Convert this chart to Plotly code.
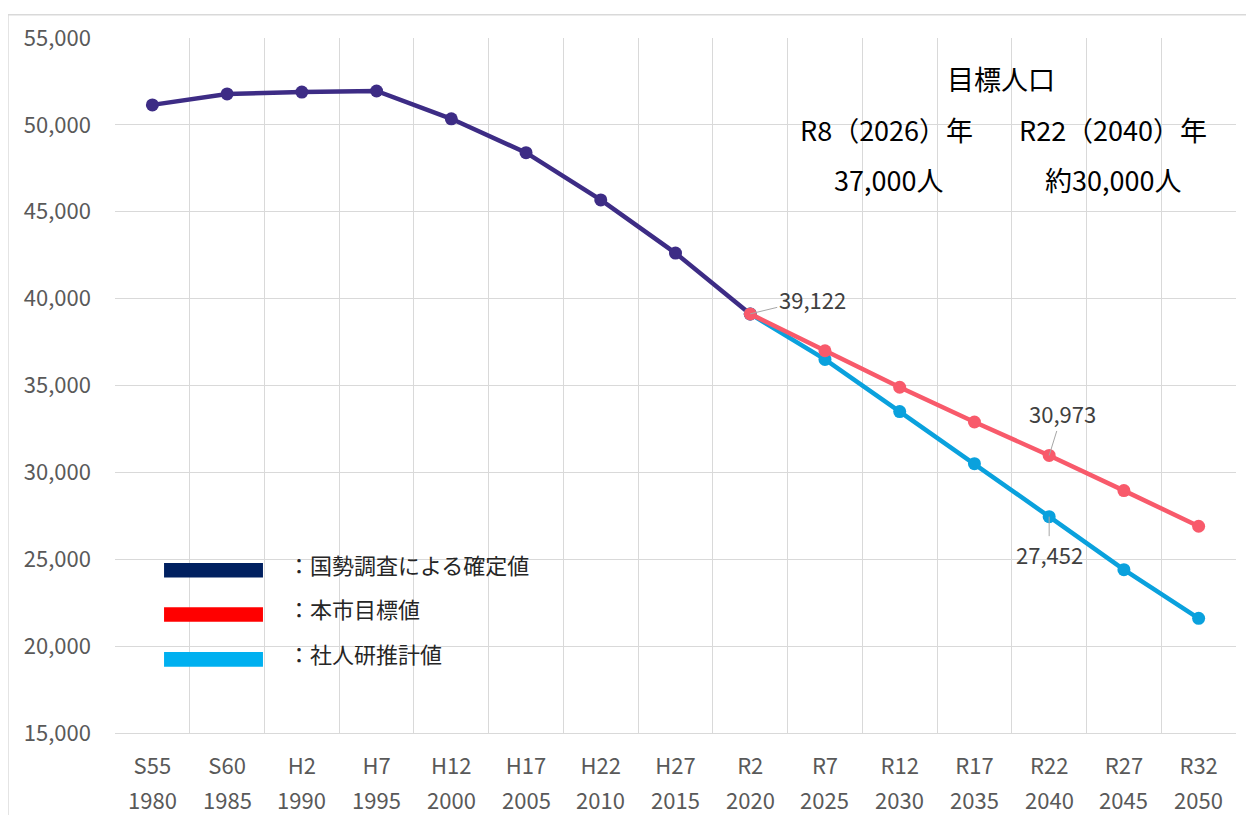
import plotly.graph_objects as go

# ---- data ----
era_labels = ["S55", "S60", "H2", "H7", "H12", "H17", "H22", "H27", "R2",
              "R7", "R12", "R17", "R22", "R27", "R32"]
years = ["1980", "1985", "1990", "1995", "2000", "2005", "2010", "2015", "2020",
         "2025", "2030", "2035", "2040", "2045", "2050"]
census_values = [51150, 51780, 51890, 51950, 50350, 48400, 45680, 42620, 39122]
target_values = [39122, 37000, 34900, 32900, 30973, 28950, 26900]
ipss_values = [39122, 36500, 33500, 30500, 27452, 24400, 21600]

y_ticks = [15000, 20000, 25000, 30000, 35000, 40000, 45000, 50000, 55000]
legend_names = ["：国勢調査による確定値", "：本市目標値", "：社人研推計値"]
legend_colors = ["#002060", "#FF0000", "#00B0F0"]

FONT = "Noto Sans CJK JP, Meiryo, sans-serif"
C_CENSUS = "#3D2C85"
C_TARGET = "#F85A6B"
C_IPSS = "#0AA1DD"

idx = list(range(len(era_labels)))
census_x = idx[:len(census_values)]
proj_x = idx[8:]

fig = go.Figure()
fig.add_trace(go.Scatter(x=census_x, y=census_values, mode="lines+markers",
                         line=dict(color=C_CENSUS, width=4.5),
                         marker=dict(size=13, color=C_CENSUS), showlegend=False))
fig.add_trace(go.Scatter(x=proj_x, y=ipss_values, mode="lines+markers",
                         line=dict(color=C_IPSS, width=4.5),
                         marker=dict(size=13, color=C_IPSS), showlegend=False))
fig.add_trace(go.Scatter(x=proj_x, y=target_values, mode="lines+markers",
                         line=dict(color=C_TARGET, width=4.5),
                         marker=dict(size=13, color=C_TARGET), showlegend=False))

fig.update_xaxes(range=[-0.5, len(idx) - 0.5], tickmode="array", tickvals=idx,
                 ticktext=era_labels, showgrid=False, zeroline=False,
                 tickfont=dict(family=FONT, size=22, color="#595959"),
                 ticks="", ticklabelstandoff=14,
                 showline=True, linecolor="#D9D9D9", linewidth=1,
                 minor=dict(tickmode="array",
                            tickvals=[i - 0.5 for i in range(len(idx) + 1)],
                            showgrid=True, gridcolor="#D9D9D9", gridwidth=1, ticks=""))
fig.update_yaxes(range=[15000, 55000], tickmode="array", tickvals=y_ticks,
                 ticktext=[f"{v:,}" for v in y_ticks],
                 showgrid=True, gridcolor="#D9D9D9", gridwidth=1, zeroline=False,
                 tickfont=dict(family=FONT, size=22, color="#595959"),
                 ticks="", ticklabelstandoff=23, showline=False)

annotations = []
# second row of category labels (western years)
for i, yr in zip(idx, years):
    annotations.append(dict(x=i, y=-0.095, xref="x", yref="paper", text=yr,
                            showarrow=False, xanchor="center", yanchor="middle",
                            font=dict(family=FONT, size=22, color="#595959")))

# data labels with leader lines
lab_font = dict(family=FONT, size=22, color="#404040")
annotations.append(dict(x=8, y=census_values[-1], xref="x", yref="y",
                        text=f"{census_values[-1]:,}", showarrow=True,
                        ax=62, ay=-15, arrowhead=0, arrowwidth=1, arrowcolor="#A6A6A6",
                        font=lab_font))
annotations.append(dict(x=12, y=target_values[4], xref="x", yref="y",
                        text=f"{target_values[4]:,}", showarrow=True,
                        ax=13, ay=-42, arrowhead=0, arrowwidth=1, arrowcolor="#A6A6A6",
                        font=lab_font))
annotations.append(dict(x=12, y=ipss_values[4], xref="x", yref="y",
                        text=f"{ipss_values[4]:,}", showarrow=True,
                        ax=0, ay=37, arrowhead=0, arrowwidth=1, arrowcolor="#A6A6A6",
                        font=lab_font))

# target population text block
tfont = dict(family=FONT, size=27, color="#000000")
for txt, px, py in [("目標人口", 0.790, 0.942),
                    ("R8（2026）年", 0.688, 0.868),
                    ("R22（2040）年", 0.890, 0.868),
                    ("37,000人", 0.690, 0.797),
                    ("約30,000人", 0.890, 0.797)]:
    annotations.append(dict(x=px, y=py, xref="paper", yref="paper", text=txt,
                            showarrow=False, xanchor="center", yanchor="middle",
                            font=tfont))

# custom legend
shapes = []
leg_y = [0.2342, 0.1704, 0.1060]
for name, col, yc in zip(legend_names, legend_colors, leg_y):
    shapes.append(dict(type="rect", xref="paper", yref="paper",
                       x0=0.04375, x1=0.132, y0=yc - 0.0105, y1=yc + 0.0105,
                       fillcolor=col, line=dict(width=0)))
    annotations.append(dict(x=0.1527, y=yc + 0.009, xref="paper", yref="paper",
                            text=name, showarrow=False, xanchor="left", yanchor="middle",
                            font=dict(family=FONT, size=22, color="#262626")))

# outer chart border
shapes.append(dict(type="rect", xref="paper", yref="paper",
                   x0=-0.0955, x1=1.2, y0=-0.3, y1=1.0335,
                   line=dict(color="#D9D9D9", width=1.5), fillcolor="rgba(0,0,0,0)",
                   layer="below"))

# page body has an 8px margin: size/margins compensate for it
fig.update_layout(width=1246, height=807,
                  margin=dict(l=107, r=18, t=27, b=82),
                  paper_bgcolor="white", plot_bgcolor="white",
                  annotations=annotations, shapes=shapes,
                  font=dict(family=FONT))

fig.write_html("out.html")
